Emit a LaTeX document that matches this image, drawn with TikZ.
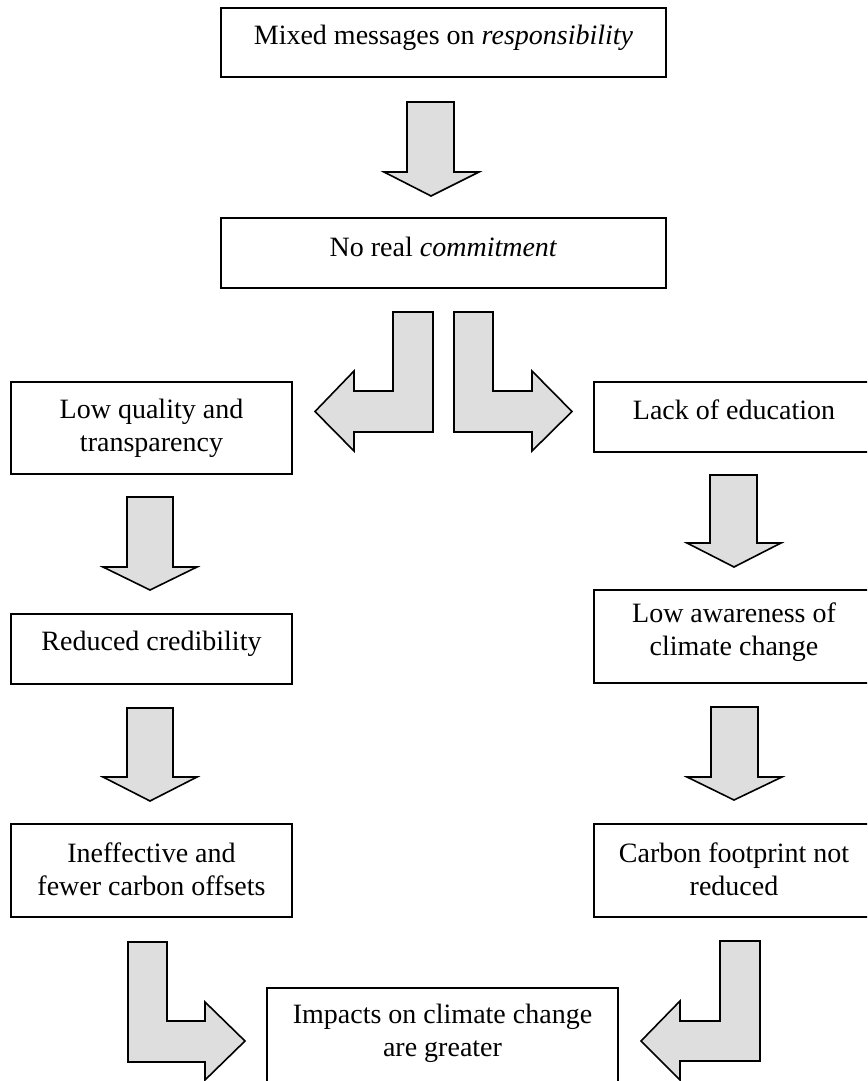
\documentclass[tikz,border=0pt]{standalone}
\usepackage{fontspec}
\setmainfont{Liberation Serif}
\definecolor{arrowfill}{HTML}{DEDEDE}
\begin{document}
\begin{tikzpicture}[x=1pt,y=-1pt,
  box/.style={draw=black, line width=1.6pt, inner sep=0pt},
  boxtext/.style={font=\fontsize{28}{33.5}\selectfont, anchor=base, inner sep=0pt},
  block/.style={draw=black, line width=1.6pt, fill=arrowfill, line join=miter}]
\useasboundingbox (0,0) rectangle (867,1081);
\clip (0,0) rectangle (867,1081);

% ---------- boxes ----------
\node[box, minimum width=445pt, minimum height=69pt] (mixed) at (443.5,42.5) {};
\node[boxtext] (mixedT) at (443.5,45) {Mixed messages on \textit{responsibility}};

\node[box, minimum width=445pt, minimum height=70pt] (commit) at (443.5,253) {};
\node[boxtext] (commitT) at (443.5,256) {No real \textit{commitment}};

\node[box, minimum width=281pt, minimum height=92pt] (quality) at (151.5,428) {};
\node[boxtext] (qualityA) at (151.5,418.5) {Low quality and};
\node[boxtext] (qualityB) at (151.5,451) {transparency};

\node[box, minimum width=280pt, minimum height=70pt] (educ) at (734,417) {};
\node[boxtext] (educT) at (734,419.5) {Lack of education};

\node[box, minimum width=281pt, minimum height=70pt] (cred) at (151.5,649) {};
\node[boxtext] (credT) at (151.5,650) {Reduced credibility};

\node[box, minimum width=280pt, minimum height=93pt] (aware) at (734,636.5) {};
\node[boxtext] (awareA) at (734,622) {Low awareness of};
\node[boxtext] (awareB) at (734,655) {climate change};

\node[box, minimum width=281pt, minimum height=93pt] (offset) at (151.5,870.5) {};
\node[boxtext] (offsetA) at (151.5,862) {Ineffective and};
\node[boxtext] (offsetB) at (151.5,895) {fewer carbon offsets};

\node[box, minimum width=280pt, minimum height=93pt] (foot) at (734,870.5) {};
\node[boxtext] (footA) at (734,862) {Carbon footprint not};
\node[boxtext] (footB) at (734,895) {reduced};

\node[box, minimum width=351pt, minimum height=112pt] (impact) at (442.5,1044) {};
\node[boxtext] (impactA) at (442.5,1023.5) {Impacts on climate change};
\node[boxtext] (impactB) at (442.5,1056.5) {are greater};

% ---------- block arrows ----------
% mixed -> commit
\draw[block] (407,102) -- (454,102) -- (454,172) -- (479,172) -- (431,196)
  -- (384,172) -- (407,172) -- cycle;
% commit -> quality (down, then left)
\draw[block] (393,312) -- (433,312) -- (433,432) -- (354,432) -- (354,451)
  -- (315,411.5) -- (354,371) -- (354,391) -- (393,391) -- cycle;
% commit -> educ (down, then right)
\draw[block] (454,312) -- (493,312) -- (493,391) -- (532,391) -- (532,371)
  -- (572,411.5) -- (532,451) -- (532,432) -- (454,432) -- cycle;
% quality -> cred
\draw[block] (127,497) -- (173,497) -- (173,567) -- (197,567) -- (150,590)
  -- (103,567) -- (127,567) -- cycle;
% cred -> offset
\draw[block] (127,708) -- (173,708) -- (173,777) -- (197,777) -- (150,801)
  -- (103,777) -- (127,777) -- cycle;
% educ -> aware
\draw[block] (710,475) -- (757,475) -- (757,543) -- (781,543) -- (734,567)
  -- (687,543) -- (710,543) -- cycle;
% aware -> foot
\draw[block] (711,707) -- (758,707) -- (758,777) -- (782,777) -- (734,800)
  -- (687,777) -- (711,777) -- cycle;
% offset -> impact (down, then right)
\draw[block] (128,942) -- (167,942) -- (167,1021) -- (205,1021) -- (205,1002)
  -- (245,1041) -- (205,1080) -- (205,1062) -- (128,1062) -- cycle;
% foot -> impact (down, then left)
\draw[block] (720,941) -- (760,941) -- (760,1061) -- (680,1061) -- (680,1080)
  -- (641,1041) -- (680,1001) -- (680,1021) -- (720,1021) -- cycle;
\end{tikzpicture}
\end{document}
